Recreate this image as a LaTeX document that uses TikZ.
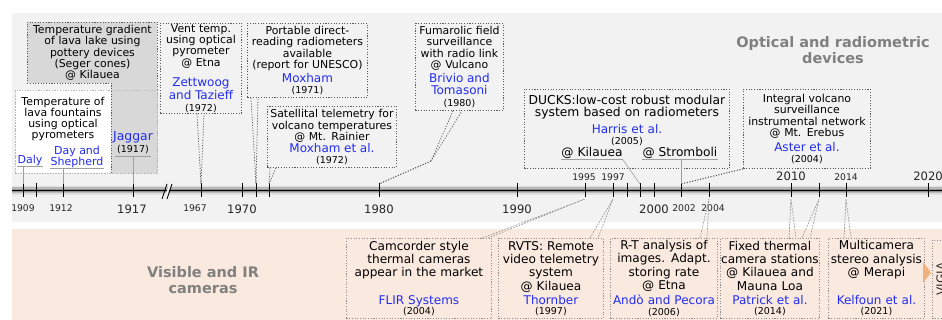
\documentclass[tikz,border=0pt]{standalone}
\usepackage{fontspec}
\setmainfont{DejaVu Sans}
\usetikzlibrary{positioning}
\definecolor{AuthBlue}{RGB}{35,45,240}
\definecolor{OptBg}{RGB}{242,242,242}
\definecolor{CamBg}{RGB}{249,233,223}
\definecolor{BoxGray}{RGB}{216,216,216}
\definecolor{HeadGray}{RGB}{128,128,128}
\definecolor{EdgeGray}{RGB}{90,90,90}
\definecolor{CamEdge}{RGB}{140,140,140}
\definecolor{ArrOrange}{RGB}{240,178,128}

\newcommand{\txtfont}{\fontsize{10.9}{11.3}\selectfont}
\newcommand{\camfont}{\fontsize{12.1}{13.3}\selectfont}
\newcommand{\autfont}{\fontsize{12}{11.6}\selectfont}
\newcommand{\yrsize}{\fontsize{9.5}{10.5}\selectfont}
\newcommand{\headfont}{\fontsize{14.5}{16.8}\selectfont\bfseries}
\newcommand{\au}[2][2pt]{\par\vspace{#1}{\color{AuthBlue}\autfont #2\par}}
\newcommand{\yr}[2][0pt]{\par\vspace{#1}{\yrsize (#2)\par}}

\begin{document}
\begin{tikzpicture}[x=1pt, y=-1pt]
    \tikzstyle{evt} = [draw=EdgeGray, dash pattern=on 1.1pt off 1.6pt, line width=0.9pt, anchor=north west, align=center, inner xsep=0pt, inner ysep=0pt, font=\txtfont]
    \tikzstyle{cam} = [evt, draw=CamEdge, font=\camfont]
    \tikzstyle{aut} = [text=AuthBlue, font=\autfont, align=center, inner xsep=0pt, inner ysep=0.5pt]
    \tikzstyle{yrs} = [font=\yrsize, inner xsep=2pt, inner ysep=2pt]
    \tikzstyle{head} = [text=HeadGray, font=\headfont, align=center]
    \tikzstyle{tail} = [draw=EdgeGray, dash pattern=on 1.1pt off 1.6pt, line width=0.8pt]
    \tikzstyle{camtail} = [draw=gray!85, dash pattern=on 1.8pt off 1.2pt, line width=0.6pt]
    \tikzstyle{uline} = [draw=gray!75, line width=0.6pt]
    \tikzstyle{lightbd} = [draw=gray!55, dash pattern=on 1.1pt off 1.6pt, line width=0.9pt]
    \tikzstyle{yrbig} = [font=\fontsize{11.6}{12}\selectfont, text=black!85]
    \tikzstyle{yrsmall} = [font=\fontsize{9.2}{10}\selectfont, text=black!85]

    \clip (0,0) rectangle (942,320);
    \fill[white] (0,0) rectangle (942,320);
    \fill[OptBg] (12,13) rectangle (942,222);
    \fill[CamBg] (12,229) rectangle (942,320);

    \node[head] (optHead) at (833,50) {Optical and radiometric\\devices};
    \node[head] (camHead) at (203,280) {Visible and IR\\cameras};

    % timeline
    \draw[line width=9pt, gray!25] (12,190.5) -- (942,190.5);
    \draw[line width=6pt, gray!55] (12,190.5) -- (942,190.5);
    \draw[line width=3pt, gray!85] (12,190.5) -- (942,190.5);
    \draw[line width=1.2pt, black] (12,190.5) -- (942,190.5);
    \fill[OptBg] (164,199) -- (169,185) -- (171,185) -- (166,199) -- cycle;
    \draw[line width=0.8pt] (162,199) -- (167,184) (167,199) -- (172,184);

    \foreach \yy/\x in {1909/23, 1910/36, 1912/63, 1917/133, 1967/201, 1970/242, 1971/256, 1972/269,
                        1980/379, 1990/517, 1995/585, 1997/613, 1998/627, 1999/640, 2000/654,
                        2002/681, 2004/709, 2010/791, 2012/819, 2014/846, 2020/928} {
        \draw[line width=0.9pt] (\x,183) -- (\x,197);
        \coordinate (tk\yy) at (\x,184);
        \coordinate (bk\yy) at (\x,199);
    }
    \foreach \yy/\x in {1917/132, 1970/242, 1980/379, 1990/517, 2000/654}
        \node[yrbig] (lb\yy) at (\x,209) {\yy};
    \foreach \yy/\x in {1909/23, 1912/61, 1967/195, 2002/684, 2004/713}
        \node[yrsmall] (lb\yy) at (\x,208) {\yy};
    \foreach \yy/\x in {2010/791, 2020/928}
        \node[yrbig] (lb\yy) at (\x,176) {\yy};
    \foreach \yy/\x in {1995/584, 1997/613, 2014/846}
        \node[yrsmall] (lb\yy) at (\x,177) {\yy};

    % early measurements
    \node[evt, lightbd, fill=white, minimum width=142pt, minimum height=83pt] (fount) at (15,90) {};
    \fill[BoxGray] (111,82) rectangle (157,173);
    \node[evt, draw=none, fill=BoxGray, minimum width=130pt, text width=130pt, minimum height=61pt] (seger) at (27,22)
        {Temperature gradient\\of lava lake using\\pottery devices\\(Seger cones)\\@ Kilauea};
    \draw[tail, line width=0.9pt] (111,173) -- (111,83) -- (27,83) -- (27,22) -- (157,22) -- (157,90);
    \draw[lightbd] (fount.north west) rectangle (fount.south east);
    \node[font=\txtfont, align=center] (fountTxt) at (63,119) {Temperature of\\lava fountains\\using optical\\pyrometers};
    \node[aut, font=\fontsize{11}{11}\selectfont] (daly) at (30,160) {Daly};
    \node[aut, font=\fontsize{11}{11}\selectfont] (dayShep) at (77,156.5) {Day and\\Shepherd};
    \node[aut, font=\fontsize{12.4}{12}\selectfont] (jaggar) at (133,137) {Jaggar};
    \node[yrs] (jaggarYr) at (133,150) {(1917)};
    \draw[uline] (daly.south west) -- (daly.south east);
    \draw[uline] (dayShep.south west) -- (dayShep.south east);
    \draw[uline] (jaggarYr.south west) -- (jaggarYr.south east);
    \draw[uline] (daly.south -| tk1909) -- (tk1909);
    \draw[uline] (dayShep.south -| tk1912) -- (tk1912);
    \draw[uline] (jaggarYr.south -| tk1917) -- (tk1917);

    % optical and radiometric devices
    \node[evt, minimum width=81pt, text width=81pt, minimum height=90pt] (vent) at (160,23)
        {Vent temp.\\using optical\\pyrometer\\@ Etna\au[8.8pt]{Zettwoog\\and Tazieff}\yr[1.6pt]{1972}};
    \node[evt, minimum width=120pt, text width=120pt, minimum height=74pt] (unesco) at (247,23)
        {Portable direct-\\reading radiometers\\available\\(report for UNESCO)\au[2.8pt]{Moxham}\yr{1971}};
    \node[evt, minimum width=129pt, text width=129pt, minimum height=61pt] (rainier) at (267,106)
        {Satellital telemetry for\\volcano temperatures\\@ Mt. Rainier\au[0.8pt]{Moxham et al.}\yr{1972}};
    \node[evt, minimum width=88pt, text width=88pt, minimum height=87pt] (fum) at (415,23)
        {Fumarolic field\\surveillance\\with radio link\\@ Vulcano\au[2.8pt]{Brivio and\\Tomasoni}\yr[1.6pt]{1980}};
    \node[evt, font=\fontsize{12.3}{12}\selectfont, minimum width=205pt, text width=205pt, minimum height=79pt] (ducks) at (524,89)
        {DUCKS:low-cost robust modular\\system based on radiometers\au[4.3pt]{Harris et al.}\yr{2005}\nointerlineskip\vbox to 17pt{}};
    \node[evt, minimum width=127pt, text width=127pt, minimum height=79pt] (aster) at (743,89)
        {Integral volcano\\surveillance\\instrumental network\\@ Mt. Erebus\au[3.8pt]{Aster et al.}\yr{2004}};
    \node[font=\fontsize{12.2}{13}\selectfont, inner xsep=0pt, inner ysep=0.6pt] (kil) at (592,153) {@ Kilauea};
    \node[font=\fontsize{12.2}{13}\selectfont, inner xsep=0pt, inner ysep=0.6pt] (strom) at (680,153) {@ Stromboli};

    \draw[tail] ([xshift=37pt]vent.south west) -- (tk1967) -- ([xshift=44pt]vent.south west);
    \draw[tail] ([xshift=4pt]unesco.south west) -- (tk1971) -- ([xshift=11pt]unesco.south west);
    \draw[tail] ([xshift=3pt]rainier.south west) -- (tk1972) -- ([xshift=9pt]rainier.south west);
    \coordinate (fumTip) at (431,161);
    \draw[tail] ([xshift=38pt]fum.south west) -- (fumTip) -- ([xshift=47pt]fum.south west);
    \draw[tail, line width=1.2pt] (fumTip) -- (tk1980);
    \draw[uline] (kil.south west) -- (kil.south east);
    \draw[uline] (kil.south east) -- (tk1999);
    \draw[uline] (strom.south west) -- (strom.south east);
    \draw[uline] (strom.south -| tk2002) -- (tk2002);
    \draw[tail, line width=1.1pt] (aster.south west) -- (tk2002);

    % visible and IR cameras
    \node[cam, minimum width=145pt, text width=145pt, minimum height=80pt] (flir) at (346,238)
        {Camcorder style\\thermal cameras\\appear in the market\au[15.9pt]{FLIR Systems}\yr{2004}};
    \node[cam, minimum width=105pt, text width=105pt, minimum height=80pt] (rvts) at (498,238)
        {RVTS: Remote\\video telemetry\\system\\@ Kilauea\au[2.4pt]{Thornber}\yr{1997}};
    \node[cam, minimum width=107pt, text width=107pt, minimum height=80pt] (ando) at (610,238)
        {R-T analysis of\\images. Adapt.\\storing rate\\@ Etna\au[2.4pt]{Andò and Pecora}\yr{2006}};
    \node[cam, minimum width=99pt, text width=99pt, minimum height=80pt] (patrick) at (720,238)
        {Fixed thermal\\camera stations\\@ Kilauea and\\Mauna Loa\au[2.4pt]{Patrick et al.}\yr{2014}};
    \node[cam, minimum width=96pt, text width=96pt, minimum height=80pt] (kelfoun) at (828,238)
        {Multicamera\\stereo analysis\\@ Merapi\au[15.4pt]{Kelfoun et al.}\yr{2021}};
    \node[cam, minimum width=30pt, minimum height=78pt] (vigiaBox) at (932,240) {};
    \node[rotate=90, font=\camfont, text=black!80] (vigia) at (941,279) {VIGIA};
    \fill[ArrOrange] (923,262) -- (931,272.5) -- (923,283) -- cycle;

    \draw[camtail] ([xshift=136pt]flir.north west) -- (bk1995) -- ([xshift=142pt]flir.north west);
    \draw[camtail] ([xshift=92pt]rvts.north west) -- (bk1997) -- ([xshift=100pt]rvts.north west);
    \draw[camtail] ([xshift=90pt]ando.north west) -- (bk2004) -- ([xshift=97pt]ando.north west);
    \draw[camtail] ([xshift=69pt]patrick.north west) -- (bk2010) -- ([xshift=76pt]patrick.north west);
    \draw[camtail] ([xshift=82pt]patrick.north west) -- (bk2012) -- ([xshift=90pt]patrick.north west);
    \draw[camtail] ([xshift=16pt]kelfoun.north west) -- (bk2014) -- ([xshift=23pt]kelfoun.north west);
\end{tikzpicture}
\end{document}
